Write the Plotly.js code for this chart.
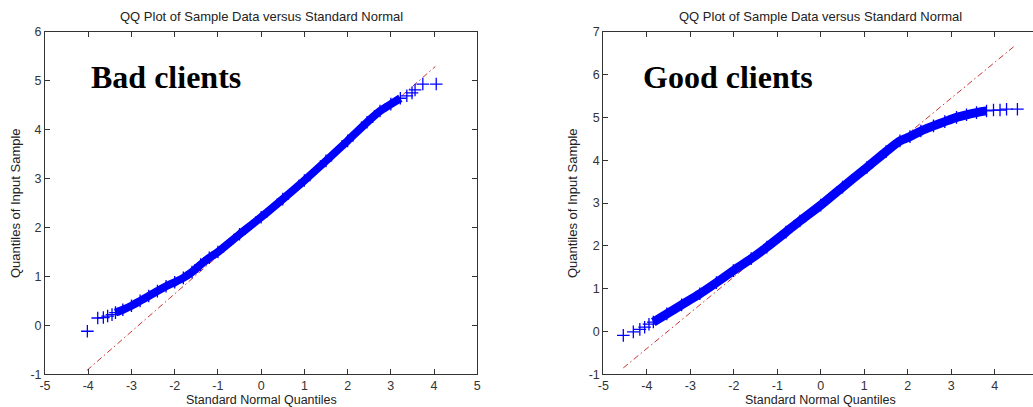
<!DOCTYPE html>
<html>
<head>
<meta charset="utf-8">
<script src="https://cdn.plot.ly/plotly-3.0.1.min.js"></script>
<style>
html,body{margin:0;padding:0;overflow:hidden;background:#fff;width:1033px;height:407px;}
#chart{width:1060px;height:407px;}
</style>
</head>
<body>
<div id="chart"></div>
<script>
// ---- Data ----
const chartTitle = "QQ Plot of Sample Data versus Standard Normal";
const xTitle = "Standard Normal Quantiles";
const yTitle = "Quantiles of Input Sample";
const panelLabels = ["Bad clients", "Good clients"];

const badXTickVals = [-5,-4,-3,-2,-1,0,1,2,3,4,5];
const badXTickText = ["-5","-4","-3","-2","-1","0","1","2","3","4","5"];
const goodXTickVals = [-5,-4,-3,-2,-1,0,1,2,3,4];
const goodXTickText = ["-5","-4","-3","-2","-1","0","1","2","3","4"];
const badYTickVals = [-1,0,1,2,3,4,5,6];
const badYTickText = ["-1","0","1","2","3","4","5","6"];
const goodYTickVals = [-1,0,1,2,3,4,5,6,7];
const goodYTickText = ["-1","0","1","2","3","4","5","6","7"];

// Bad clients: lower tail points, dense body, upper tail points
const badLowX = [-4.02, -3.78, -3.65, -3.55, -3.45];
const badLowY = [-0.12, 0.15, 0.16, 0.19, 0.22];
const badBodyX = [-3.37, -3.2, -3.0, -2.8, -2.6, -2.4, -2.2, -2.0, -1.8, -1.6, -1.4, -1.2, -1.0, -0.5, 0.0, 0.5, 1.0, 1.5, 2.0, 2.45, 2.75, 3.0, 3.22];
const badBodyY = [0.26, 0.32, 0.40, 0.50, 0.60, 0.70, 0.80, 0.88, 0.97, 1.09, 1.24, 1.38, 1.50, 1.86, 2.21, 2.58, 2.96, 3.36, 3.77, 4.15, 4.38, 4.52, 4.64];
const badHighX = [3.37, 3.49, 3.56, 3.74, 4.05];
const badHighY = [4.69, 4.75, 4.81, 4.93, 4.93];
const badRefX = [-4.03, 4.03];
const badRefY = [-0.92, 5.29];

// Good clients
const goodLowX = [-4.54, -4.31, -4.16, -4.05, -3.95];
const goodLowY = [-0.09, -0.01, 0.05, 0.10, 0.17];
const goodBodyX = [-3.85, -3.54, -3.2, -2.78, -2.4, -2.01, -1.6, -1.24, -0.8, -0.48, 0.0, 0.5, 1.06, 1.5, 1.82, 2.05, 2.3, 2.59, 2.85, 3.12, 3.35, 3.58, 3.81];
const goodBodyY = [0.22, 0.41, 0.62, 0.88, 1.14, 1.42, 1.70, 1.97, 2.32, 2.58, 2.95, 3.37, 3.83, 4.20, 4.45, 4.55, 4.68, 4.80, 4.90, 5.00, 5.06, 5.11, 5.15];
const goodHighX = [3.97, 4.12, 4.27, 4.52];
const goodHighY = [5.17, 5.17, 5.19, 5.19];
const goodRefX = [-4.54, 4.46];
const goodRefY = [-0.85, 6.67];

// ---- Layout geometry (pixels) ----
const W = 1060, H = 407;
const px = v => v / W;
const py = v => 1 - v / H;

const blue = "#0000ff";
const red = "rgb(205,50,50)";
const font = "'Liberation Sans', Arial, Helvetica, sans-serif";

function markers(x, y, xa, ya) {
  return {x, y, xaxis: xa, yaxis: ya, type: "scatter", mode: "markers",
    marker: {symbol: "cross-thin-open", size: 9, color: blue, line: {color: blue, width: 1.3}},
    hoverinfo: "skip", showlegend: false};
}
function band(x, y, xa, ya, w) {
  return {x, y, xaxis: xa, yaxis: ya, type: "scatter", mode: "lines+markers",
    line: {color: blue, width: w, shape: "spline", smoothing: 0.6},
    marker: {symbol: "cross-thin-open", size: 9, color: blue, line: {color: blue, width: 1.3}},
    hoverinfo: "skip", showlegend: false};
}
function refLine(x, y, xa, ya) {
  return {x, y, xaxis: xa, yaxis: ya, type: "scatter", mode: "lines",
    line: {color: red, width: 1, dash: "6px,3px,1.5px,3px"},
    hoverinfo: "skip", showlegend: false};
}

const traces = [
  refLine(badRefX, badRefY, "x", "y"),
  band(badBodyX, badBodyY, "x", "y", 8),
  markers(badLowX, badLowY, "x", "y"),
  markers(badHighX, badHighY, "x", "y"),
  refLine(goodRefX, goodRefY, "x2", "y2"),
  band(goodBodyX, goodBodyY, "x2", "y2", 9),
  markers(goodLowX, goodLowY, "x2", "y2"),
  markers(goodHighX, goodHighY, "x2", "y2"),
];

function axis(domain, range, tv, tt) {
  return {domain, range, tickvals: tv, ticktext: tt, ticks: "inside", ticklen: 5,
    tickcolor: "#333", tickwidth: 1, showline: true, linecolor: "#333", linewidth: 1,
    mirror: "allticks", showgrid: false, zeroline: false,
    tickfont: {family: font, size: 12.5, color: "#333"}, fixedrange: true};
}

const yDom = [py(374.3), py(31.7)];
const layout = {
  width: W, height: H,
  margin: {l: 0, r: 0, t: 0, b: 0, pad: 0},
  paper_bgcolor: "#fff", plot_bgcolor: "#fff",
  showlegend: false,
  xaxis: axis([px(45), px(477.3)], [-5, 5], badXTickVals, badXTickText),
  yaxis: axis(yDom, [-1, 6], badYTickVals, badYTickText),
  xaxis2: Object.assign(axis([px(603.3), px(1038.3)], [-5, 5], goodXTickVals, goodXTickText), {anchor: "y2"}),
  yaxis2: Object.assign(axis(yDom, [-1, 7], goodYTickVals, goodYTickText), {anchor: "x2"}),
  annotations: [
    {text: chartTitle, xref: "paper", yref: "paper", x: px(261), y: py(17), showarrow: false,
     xanchor: "center", yanchor: "middle", font: {family: font, size: 13, color: "#222"}},
    {text: chartTitle, xref: "paper", yref: "paper", x: px(820), y: py(17), showarrow: false,
     xanchor: "center", yanchor: "middle", font: {family: font, size: 13, color: "#222"}},
    {text: xTitle, xref: "paper", yref: "paper", x: px(261), y: py(400), showarrow: false,
     xanchor: "center", yanchor: "middle", font: {family: font, size: 12.5, color: "#222"}},
    {text: xTitle, xref: "paper", yref: "paper", x: px(820), y: py(400), showarrow: false,
     xanchor: "center", yanchor: "middle", font: {family: font, size: 12.5, color: "#222"}},
    {text: yTitle, xref: "paper", yref: "paper", x: px(15), y: py(203), showarrow: false, textangle: -90,
     xanchor: "center", yanchor: "middle", font: {family: font, size: 13, color: "#222"}},
    {text: yTitle, xref: "paper", yref: "paper", x: px(572), y: py(203), showarrow: false, textangle: -90,
     xanchor: "center", yanchor: "middle", font: {family: font, size: 13, color: "#222"}},
    {text: "<b>" + panelLabels[0] + "</b>", xref: "paper", yref: "paper", x: px(166), y: py(77), showarrow: false,
     xanchor: "center", yanchor: "middle", font: {family: "'Liberation Serif', 'Times New Roman', serif", size: 32, color: "#000"}},
    {text: "<b>" + panelLabels[1] + "</b>", xref: "paper", yref: "paper", x: px(728), y: py(77), showarrow: false,
     xanchor: "center", yanchor: "middle", font: {family: "'Liberation Serif', 'Times New Roman', serif", size: 32, color: "#000"}},
  ]
};

Plotly.newPlot("chart", traces, layout, {displayModeBar: false, staticPlot: true});
</script>
</body>
</html>
